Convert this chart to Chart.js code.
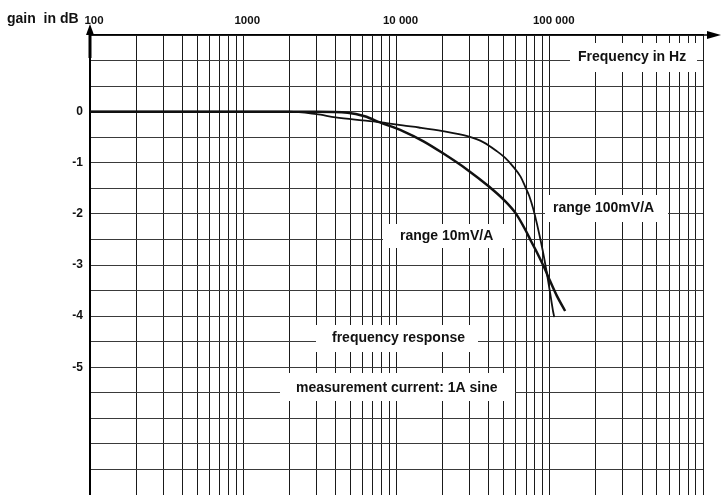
<!DOCTYPE html>
<html><head><meta charset="utf-8">
<script src="https://cdn.jsdelivr.net/npm/chart.js@4/dist/chart.umd.min.js"></script>
<style>html,body{margin:0;padding:0;background:#fff}#wrap{width:722px;height:495px}</style>
</head><body><div id="wrap"><canvas id="c" width="722" height="495"></canvas></div>
<script>
// Frequency response, range 100mV/A
const freq100mV = [100, 2000, 3000, 4000, 6000, 8000, 11000, 14000, 20000, 29000, 37000, 45000, 51000, 57500, 64500, 69000, 73500, 78000, 82600, 90000, 95000, 100000, 105000, 107000];
const gain100mV = [0, 0, -0.05, -0.11, -0.17, -0.21, -0.27, -0.31, -0.38, -0.48, -0.6, -0.77, -0.9, -1.07, -1.27, -1.46, -1.65, -1.9, -2.2, -2.72, -3.1, -3.5, -3.9, -4.02];
// Frequency response, range 10mV/A
const freq10mV = [100, 2000, 3000, 4800, 6200, 7800, 11000, 15000, 20000, 28800, 40700, 50000, 60000, 69000, 76000, 83000, 93000, 100000, 111500, 126000];
const gain10mV = [0, 0, 0, -0.02, -0.09, -0.21, -0.38, -0.58, -0.81, -1.13, -1.48, -1.72, -1.99, -2.3, -2.55, -2.77, -3.08, -3.3, -3.61, -3.9];

const xDecades = [100, 1000, 10000, 100000];
const xTickLabels = ['100', '1000', '10 000', '100 000'];
const yLabelled = [0, -1, -2, -3, -4, -5];

const FONT = '"Liberation Sans", Arial, Helvetica, sans-serif';

const gridValues = [];
xDecades.forEach(d => { for (let k = 1; k <= 9; k++) gridValues.push(k * d); });
gridValues.push(1000000);

const notes = [
  {text: 'Frequency in Hz', x: 578, y: 57, box: [570, 43, 697, 72]},
  {text: 'range 100mV/A', x: 553, y: 208, box: [545, 195, 668, 222]},
  {text: 'range 10mV/A', x: 400, y: 236, box: [383, 224, 512, 248]},
  {text: 'frequency response', x: 332, y: 338, box: [316, 325, 478, 352]},
  {text: 'measurement current: 1A sine', x: 296, y: 388, box: [280, 373, 515, 401]}
];

function zeroPad(s) { s.paddingLeft = 0; s.paddingRight = 0; s.paddingTop = 0; s.paddingBottom = 0; }

const annotate = {
  id: 'annotate',
  beforeDatasetsDraw(chart) {
    const ctx = chart.ctx;
    ctx.save();
    notes.forEach(n => {
      ctx.fillStyle = '#fff';
      ctx.fillRect(n.box[0], n.box[1], n.box[2] - n.box[0], n.box[3] - n.box[1]);
      ctx.fillStyle = '#111';
      ctx.font = 'bold 14px ' + FONT;
      ctx.textAlign = 'left';
      ctx.textBaseline = 'middle';
      ctx.fillText(n.text, n.x, n.y);
    });
    ctx.restore();
  },
  afterDraw(chart) {
    const ctx = chart.ctx;
    const a = chart.chartArea;
    ctx.save();
    ctx.fillStyle = '#111';
    ctx.font = 'bold 14px ' + FONT;
    ctx.textAlign = 'left';
    ctx.textBaseline = 'middle';
    ctx.fillText('gain\u00a0 in dB', 7, 19);
    // y arrow
    ctx.strokeStyle = '#000';
    ctx.lineWidth = 3;
    ctx.beginPath();
    ctx.moveTo(a.left, 58);
    ctx.lineTo(a.left, 30);
    ctx.stroke();
    ctx.fillStyle = '#000';
    ctx.beginPath();
    ctx.moveTo(a.left, 24);
    ctx.lineTo(a.left - 4, 35);
    ctx.lineTo(a.left + 4, 35);
    ctx.closePath();
    ctx.fill();
    // x arrow
    ctx.lineWidth = 1.5;
    ctx.beginPath();
    ctx.moveTo(a.right, a.top);
    ctx.lineTo(712, a.top);
    ctx.stroke();
    ctx.beginPath();
    ctx.moveTo(721, a.top);
    ctx.lineTo(707, a.top - 4);
    ctx.lineTo(707, a.top + 4);
    ctx.closePath();
    ctx.fill();
    ctx.restore();
  }
};

new Chart(document.getElementById('c'), {
  type: 'scatter',
  data: {
    datasets: [
      {label: 'range 100mV/A', data: freq100mV.map((f, i) => ({x: f, y: gain100mV[i]})), showLine: true,
       borderColor: '#111', borderWidth: 1.8, pointRadius: 0, cubicInterpolationMode: 'monotone'},
      {label: 'range 10mV/A', data: freq10mV.map((f, i) => ({x: f, y: gain10mV[i]})), showLine: true,
       borderColor: '#111', borderWidth: 2.5, pointRadius: 0, cubicInterpolationMode: 'monotone'}
    ]
  },
  options: {
    responsive: false,
    animation: false,
    devicePixelRatio: 1,
    layout: {padding: {left: 0, right: 19, top: 0, bottom: 0}},
    plugins: {legend: {display: false}, tooltip: {enabled: false}},
    scales: {
      x: {
        type: 'logarithmic', position: 'top', min: 100, max: 1000000,
        afterBuildTicks(s) { s.ticks = gridValues.map(v => ({value: v})); },
        afterFit(s) { s.height = 35; zeroPad(s); },
        ticks: {
          autoSkip: false, maxRotation: 0, minRotation: 0, padding: 7, labelOffset: 4, color: '#111',
          font: {family: FONT, size: 11.5, weight: 'bold'},
          callback(v) { const i = xDecades.indexOf(v); return i >= 0 ? xTickLabels[i] : ''; }
        },
        grid: {color: '#1a1a1a', lineWidth: 1, drawTicks: false},
        border: {color: '#000', width: 1.5}
      },
      y: {
        min: -7.5, max: 1.5,
        afterFit(s) { s.width = 90; zeroPad(s); },
        ticks: {
          stepSize: 0.5, padding: 7, color: '#111', autoSkip: false,
          font: {family: FONT, size: 12, weight: 'bold'},
          callback(v) { return yLabelled.includes(v) ? String(v) : ''; }
        },
        grid: {color: '#3a3a3a', lineWidth: 1, drawTicks: false},
        border: {color: '#000', width: 2}
      }
    }
  },
  plugins: [annotate]
});
</script>
</body></html>
